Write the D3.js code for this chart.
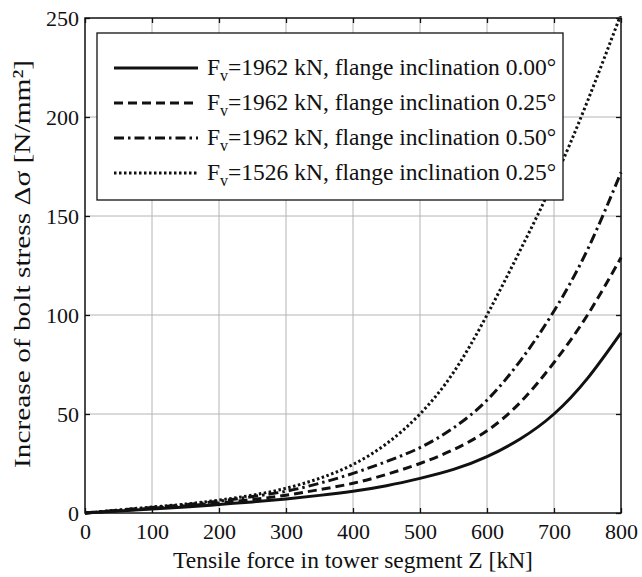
<!DOCTYPE html>
<html><head><meta charset="utf-8">
<script src="https://cdn.jsdelivr.net/npm/d3@7"></script>
<style>body{margin:0;background:#fff}svg{display:block}svg text{font-family:"Liberation Serif","Times New Roman",Times,"DejaVu Serif",serif !important;fill:#111}</style>
</head><body><div id="chart"></div>
<script>
const xValues = [0,50,100,150,200,250,300,350,400,450,500,550,600,650,700,750,800];
const s000 = [0,1,2,3,4.3,5.6,7.1,8.9,11,13.8,17.5,22,28.5,37.5,50,68,91];
const s025 = [0,1.2,2.4,3.6,5,6.8,9,11.8,15,19.5,25,32,41.5,56,76,100,129];
const s050 = [0,1.4,2.8,4.2,6,8.3,11,15,20,26,33,43,57,77,102,133,172];
const s1526 = [0,1.5,3,4.5,6.5,9,12.5,17.5,24.5,35,50,71,100,133,168,208,252];
const seriesNames = ["=1962 kN, flange inclination 0.00°","=1962 kN, flange inclination 0.25°","=1962 kN, flange inclination 0.50°","=1526 kN, flange inclination 0.25°"];
const xTicks = [0,100,200,300,400,500,600,700,800];
const yTicks = [0,50,100,150,200,250];
const xTitle = "Tensile force in tower segment Z [kN]";
const yTitle = "Increase of bolt stress  Δσ [N/mm²]";

const W=642,H=577;
const m={l:85,r:21,t:18,b:64};
const svg=d3.select("#chart").append("svg").attr("width",W).attr("height",H);
const x=d3.scaleLinear().domain([0,800]).range([m.l,W-m.r]);
const y=d3.scaleLinear().domain([0,250]).range([H-m.b,m.t]);
const fs=22, fsT=23.5;
const FF='"Liberation Serif","Times New Roman",Times,"DejaVu Serif",serif';

svg.append("g").selectAll("line").data(xTicks.slice(1,-1)).join("line")
 .attr("x1",d=>x(d)).attr("x2",d=>x(d)).attr("y1",y(0)).attr("y2",y(250))
 .attr("stroke","#b4b4b4").attr("stroke-width",1);
svg.append("g").selectAll("line").data(yTicks.slice(1,-1)).join("line")
 .attr("y1",d=>y(d)).attr("y2",d=>y(d)).attr("x1",x(0)).attr("x2",x(800))
 .attr("stroke","#b4b4b4").attr("stroke-width",1);

const tl=5;
const ax=svg.append("g").attr("transform",`translate(0,${y(0)})`)
 .call(d3.axisBottom(x).tickValues(xTicks).tickSize(-tl).tickPadding(10).tickFormat(d3.format("d")));
const axT=svg.append("g").attr("transform",`translate(0,${y(250)})`)
 .call(d3.axisTop(x).tickValues(xTicks).tickSize(-tl).tickFormat(""));
const ay=svg.append("g").attr("transform",`translate(${x(0)},0)`)
 .call(d3.axisLeft(y).tickValues(yTicks).tickSize(-tl).tickPadding(6).tickFormat(d3.format("d")));
const ayR=svg.append("g").attr("transform",`translate(${x(800)},0)`)
 .call(d3.axisRight(y).tickValues(yTicks).tickSize(-tl).tickFormat(""));
[ax,axT,ay,ayR].forEach(g=>{g.attr("font-family",FF).attr("font-size",fs);g.select(".domain").remove();g.selectAll("line").attr("stroke","#111").attr("stroke-width",1.3);
 g.selectAll("text").style("font-family",FF).attr("font-size",fs).attr("fill","#111");});

const line=d3.line().curve(d3.curveNatural).x((d,i)=>x(xValues[i])).y(d=>y(d));
const styles=[{d:null},{d:"9,5"},{d:"10,4,2.5,4"},{d:"2.5,2.5"}];
const data=[s000,s025,s050,s1526];
svg.append("defs").append("clipPath").attr("id","cp").append("rect")
 .attr("x",x(0)).attr("y",y(250)-2).attr("width",x(800)-x(0)+2).attr("height",y(0)-y(250)+4);
const lg=svg.append("g").attr("clip-path","url(#cp)");
data.forEach((s,i)=>{
 lg.append("path").datum(s).attr("d",line).attr("fill","none").attr("stroke","#111")
  .attr("stroke-width",3).attr("stroke-dasharray",styles[i].d);
});

svg.append("rect").attr("x",x(0)).attr("y",y(250)).attr("width",x(800)-x(0)).attr("height",y(0)-y(250))
 .attr("fill","none").attr("stroke","#111").attr("stroke-width",1.5);

const L={x:97,y:33,w:466,h:167};
const leg=svg.append("g");
leg.append("rect").attr("x",L.x).attr("y",L.y).attr("width",L.w).attr("height",L.h)
 .attr("fill","#fff").attr("stroke","#111").attr("stroke-width",1.3);
seriesNames.forEach((n,i)=>{
 const cy=L.y+35+i*35;
 leg.append("line").attr("x1",114).attr("x2",198).attr("y1",cy).attr("y2",cy)
  .attr("stroke","#111").attr("stroke-width",3).attr("stroke-dasharray",styles[i].d);
 const t=leg.append("text").attr("x",207).attr("y",cy+7).attr("font-size",fsT).style("font-family",FF);
 t.append("tspan").text("F");
 t.append("tspan").attr("font-size",16).attr("dy",6).text("v");
 t.append("tspan").attr("dy",-6).text(n);
});

svg.append("text").attr("x",(x(0)+x(800))/2).attr("y",568).attr("text-anchor","middle").attr("font-size",fsT).style("font-family",FF).text(xTitle);
svg.append("text").attr("transform",`translate(30,264) rotate(-90)`).attr("text-anchor","middle")
 .attr("font-size",24).attr("textLength",408).attr("lengthAdjust","spacingAndGlyphs").style("font-family",FF).text(yTitle);
</script></body></html>
